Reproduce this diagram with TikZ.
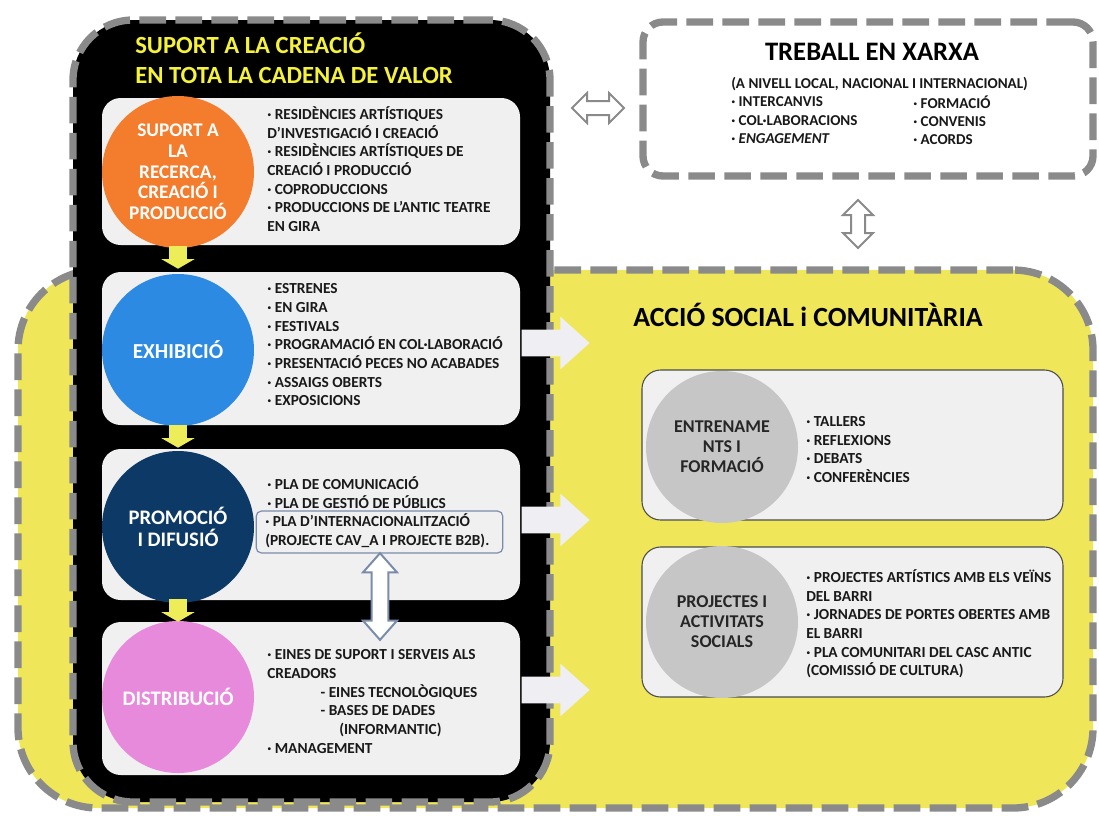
\documentclass[tikz,border=0pt]{standalone}
\usepackage{fontspec}
\setmainfont{Carlito}
\usetikzlibrary{shapes.arrows}
\definecolor{dashgray}{HTML}{8A8A8A}
\definecolor{yellowfill}{HTML}{EFE65A}
\definecolor{titleyellow}{HTML}{F4F23A}
\definecolor{panelgray}{HTML}{F0F0F0}
\definecolor{corange}{HTML}{F47C2D}
\definecolor{cblue}{HTML}{2D8AE3}
\definecolor{cnavy}{HTML}{0C3965}
\definecolor{cpink}{HTML}{E88ADB}
\definecolor{cgray}{HTML}{C6C6C6}
\definecolor{arrwhite}{HTML}{EEEEF3}
\definecolor{arryellow}{HTML}{EDED5A}
\definecolor{boxblue}{HTML}{7B8CAA}
\begin{document}
\begin{tikzpicture}[x=0.75pt,y=-0.75pt,
  dashborder/.style={draw=dashgray, line width=5.5pt, dash pattern=on 20pt off 7pt},
  bigbox/.style={rectangle, inner sep=0pt, dashborder},
  panel/.style={rectangle, rounded corners=14pt, fill=panelgray, inner sep=0pt, minimum width=313.5pt},
  rpanel/.style={rectangle, rounded corners=14pt, fill=panelgray, draw=black!70, line width=0.8pt, inner sep=0pt, minimum width=315.75pt, minimum height=112.5pt},
  circ/.style={circle, inner sep=0pt, minimum size=114pt, text=white, align=center, font=\bfseries\fontsize{14.5}{15.5}\selectfont},
  gcirc/.style={circ, fill=cgray, text=black!85, font=\bfseries\fontsize{13.5}{15}\selectfont},
  itemtxt/.style={anchor=west, inner sep=0pt, align=left, text=black!90, font=\bfseries\fontsize{11.5}{14}\selectfont},
  ritemtxt/.style={itemtxt, font=\bfseries\fontsize{11.5}{14}\selectfont},
  twtxt/.style={itemtxt, font=\bfseries\fontsize{11.3}{13.7}\selectfont},
  wharrow/.style={single arrow, fill=arrwhite, inner sep=9.75pt, minimum height=51pt, single arrow head extend=9.75pt, single arrow tip angle=84, anchor=tip},
  yarrow/.style={single arrow, fill=arryellow, inner sep=6.4pt, minimum height=13.5pt, single arrow head extend=6pt, single arrow tip angle=120, rotate=-90, anchor=tip},
  dblarrow/.style={double arrow, fill=white, draw=dashgray, line width=1.5pt, inner sep=4.5pt, minimum height=39pt, double arrow head extend=6pt},
]
\useasboundingbox (0,0) rectangle (1099,815);
% big containers
\node[bigbox, fill=yellowfill, rounded corners=60pt, minimum width=806.25pt, minimum height=403.5pt] (social) at (555.5,539) {};
\node[bigbox, fill=black, rounded corners=45pt, minimum width=357.75pt, minimum height=586.5pt] (chain) at (311.5,411) {};
\node[bigbox, fill=white, rounded corners=15pt, minimum width=337.5pt, minimum height=115.5pt] (xarxa) at (868,99) {};

% titles
\node[anchor=west, inner sep=0pt, align=left, text=titleyellow, font=\bfseries\fontsize{18.5}{22.5}\selectfont] (tchain) at (135,58) {SUPORT A LA CREACIÓ\\EN TOTA LA CADENA DE VALOR};
\node[inner sep=0pt, text=black, font=\bfseries\fontsize{20}{22}\selectfont] (txarxa) at (872,52) {TREBALL EN XARXA};
\node[anchor=west, inner sep=0pt, text=black, font=\bfseries\fontsize{20.8}{22}\selectfont] (tsocial) at (633,315) {ACCIÓ SOCIAL i COMUNITÀRIA};

% xarxa contents
\node[twtxt] (xa) at (731,110.5) {(A NIVELL LOCAL, NACIONAL I INTERNACIONAL)\\· INTERCANVIS\\· COL·LABORACIONS\\· \textit{ENGAGEMENT}};
\node[twtxt] (xb) at (913,120) {· FORMACIÓ\\· CONVENIS\\· ACORDS};

% left panels
\node[panel, minimum height=110.25pt] (p1) at (311,171.5) {};
\node[panel, minimum height=114.75pt] (p2) at (311,348.5) {};
\node[panel, minimum height=113.25pt] (p3) at (311,524.5) {};
\node[panel, minimum height=114.75pt] (p4) at (311,698.5) {};

\node[circ, fill=corange] (c1) at (178,172) {SUPORT A\\LA\\RECERCA,\\CREACIÓ I\\PRODUCCIÓ};
\node[circ, fill=cblue, font=\bfseries\fontsize{16}{17}\selectfont] (c2) at (178,350) {EXHIBICIÓ};
\node[circ, fill=cnavy, font=\bfseries\fontsize{15.5}{16.5}\selectfont] (c3) at (178,527) {PROMOCIÓ\\I DIFUSIÓ};
\node[circ, fill=cpink, font=\bfseries\fontsize{15.5}{16.5}\selectfont] (c4) at (178,697) {DISTRIBUCIÓ};

\node[itemtxt] (t1) at (267,169) {· RESIDÈNCIES ARTÍSTIQUES\\D’INVESTIGACIÓ I CREACIÓ\\· RESIDÈNCIES ARTÍSTIQUES DE\\CREACIÓ I PRODUCCIÓ\\· COPRODUCCIONS\\· PRODUCCIONS DE L’ANTIC TEATRE\\EN GIRA};
\node[itemtxt] (t2) at (267,345) {· ESTRENES\\· EN GIRA\\· FESTIVALS\\· PROGRAMACIÓ EN COL·LABORACIÓ\\· PRESENTACIÓ PECES NO ACABADES\\· ASSAIGS OBERTS\\· EXPOSICIONS};
\node[itemtxt] (t3) at (267,492.5) {· PLA DE COMUNICACIÓ\\· PLA DE GESTIÓ DE PÚBLICS};
\node[rectangle, rounded corners=4pt, draw=boxblue, line width=0.9pt, fill=panelgray, minimum width=185pt, minimum height=31.5pt, inner sep=0pt] (intl) at (379.5,532) {};
\node[itemtxt] (t3b) at (265,530.5) {· PLA D’INTERNACIONALITZACIÓ\\(PROJECTE CAV\_A I PROJECTE B2B).};
\node[itemtxt] (t4) at (267,701.5) {· EINES DE SUPORT I SERVEIS ALS\\CREADORS\\\hspace*{40pt}- EINES TECNOLÒGIQUES\\\hspace*{40pt}- BASES DE DADES\\\hspace*{54pt}(INFORMANTIC)\\· MANAGEMENT};

% right panels
\node[rpanel] (p5) at (852.5,445) {};
\node[rpanel] (p6) at (852.5,622) {};
\node[gcirc] (c5) at (722,447) {ENTRENAME\\NTS I\\FORMACIÓ};
\node[gcirc] (c6) at (722,622) {PROJECTES I\\ACTIVITATS\\SOCIALS};
\node[ritemtxt] (t5) at (806,449.5) {· TALLERS\\· REFLEXIONS\\· DEBATS\\· CONFERÈNCIES};
\node[ritemtxt] (t6) at (806,624) {· PROJECTES ARTÍSTICS AMB ELS VEÏNS\\DEL BARRI\\· JORNADES DE PORTES OBERTES AMB\\EL BARRI\\· PLA COMUNITARI DEL CASC ANTIC\\(COMISSIÓ DE CULTURA)};

% yellow arrows between stages
\node[yarrow] (y1) at (178,269) {};
\node[yarrow] (y2) at (178,448) {};
\node[yarrow] (y3) at (178,622) {};

% white arrows into social action
\node[wharrow] (w1) at (590,343) {};
\node[wharrow] (w2) at (590,520) {};
\node[wharrow] (w3) at (590,690) {};

% double arrows
\node[dblarrow] (d1) at (598,108) {};
\node[dblarrow, rotate=90, minimum height=36pt] (d2) at (858,224) {};
\node[dblarrow, draw=boxblue, rotate=90, inner sep=5.6pt, minimum height=65pt, double arrow head extend=6.4pt, double arrow tip angle=83] (d3) at (380,596.5) {};
\end{tikzpicture}
\end{document}
